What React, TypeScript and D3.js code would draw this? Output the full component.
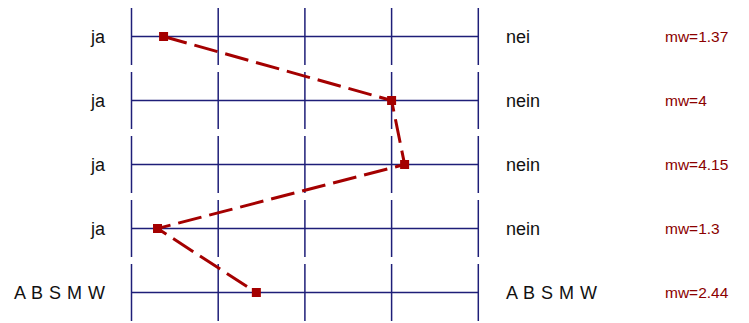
import React from "react";
import * as d3 from "d3";

const leftLabels = ["ja", "ja", "ja", "ja", "A B S M W"];
const rightLabels = ["nei", "nein", "nein", "nein", "A B S M W"];
const meanValues = [1.37, 4, 4.15, 1.3, 2.44];
const scaleTicks = [1, 2, 3, 4, 5];

const W = 749;
const H = 323;

export default function App() {
  const x = d3.scaleLinear().domain([1, 5]).range([131.5, 478.3]);
  const y = d3
    .scalePoint<number>()
    .domain(d3.range(meanValues.length))
    .range([36.5, 292.5]);
  const half = 28.5;
  const line = d3
    .line<number>()
    .x((d) => x(d))
    .y((_, i) => y(i) as number);
  const grid = "#1e1e78";
  const red = "#a40000";
  return (
    <svg
      width={W}
      height={H}
      style={{ position: "absolute", left: 0, top: 0, background: "#fff" }}
      fontFamily="'Liberation Sans', Arial, sans-serif"
    >
      {meanValues.map((_, i) => {
        const cy = y(i) as number;
        return (
          <g key={i}>
            <line x1={x(1)} x2={x(5)} y1={cy} y2={cy} stroke={grid} strokeWidth={1.5} />
            {scaleTicks.map((t) => (
              <line
                key={t}
                x1={x(t)}
                x2={x(t)}
                y1={cy - half}
                y2={cy + half}
                stroke={grid}
                strokeWidth={1.5}
              />
            ))}
            <text x={105} y={cy} dy="0.35em" textAnchor="end" fontSize={18} fill="#111" wordSpacing={1}>
              {leftLabels[i]}
            </text>
            <text x={506} y={cy} dy="0.35em" textAnchor="start" fontSize={18} fill="#111" wordSpacing={1}>
              {rightLabels[i]}
            </text>
            <text x={665} y={cy} dy="0.35em" textAnchor="start" fontSize={15.5} fill="#8b0000">
              {"mw=" + meanValues[i]}
            </text>
          </g>
        );
      })}
      <path
        d={line(meanValues) || ""}
        fill="none"
        stroke={red}
        strokeWidth={3}
        strokeDasharray="24,8"
      />
      {meanValues.map((v, i) => (
        <rect
          key={i}
          x={x(v) - 4.5}
          y={(y(i) as number) - 4.5}
          width={9}
          height={9}
          fill={red}
        />
      ))}
    </svg>
  );
}
